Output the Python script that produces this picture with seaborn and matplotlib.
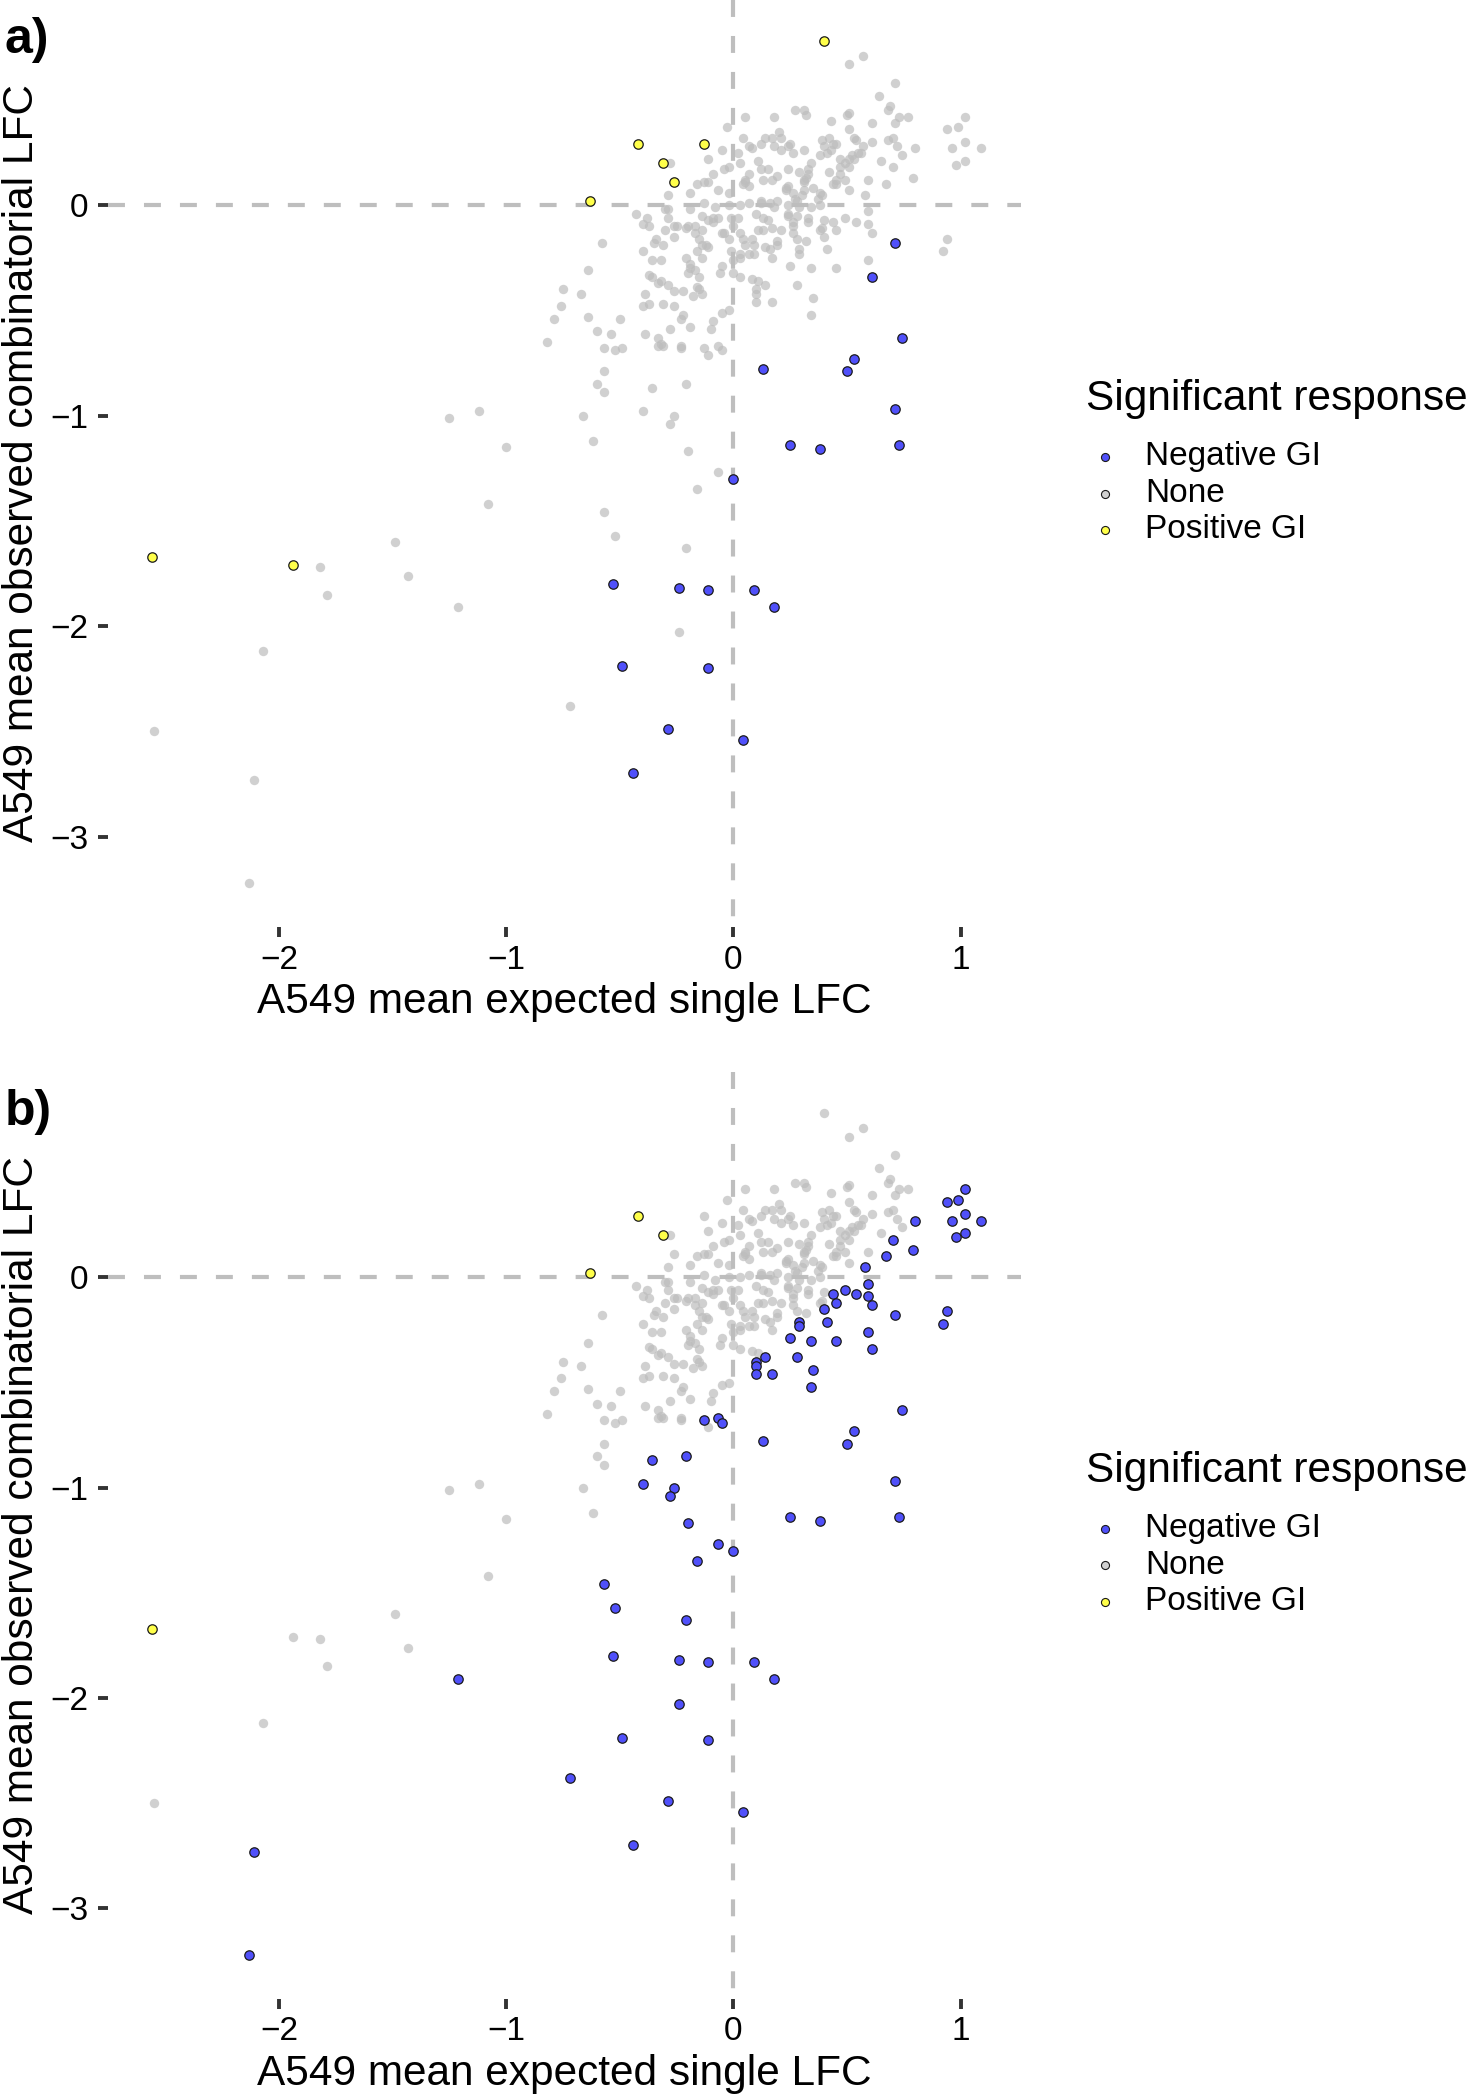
import matplotlib
matplotlib.use('Agg')
import matplotlib.pyplot as plt
from matplotlib.lines import Line2D
import numpy as np
import pandas as pd
import seaborn as sns

# (expected single LFC, observed combinatorial LFC)

# no significant response in either panel
none_pts = [
    (0.57, 0.71), (0.51, 0.67), (0.71, 0.58), (0.64, 0.52), (0.69, 0.47), (0.68, 0.45),
    (0.27, 0.45), (0.31, 0.45), (0.32, 0.43), (0.05, 0.42), (0.18, 0.42), (0.50, 0.43),
    (0.51, 0.44), (0.43, 0.40), (0.61, 0.39), (0.73, 0.42), (0.77, 0.42), (0.71, 0.39),
    (0.51, 0.36), (-0.03, 0.37), (0.20, 0.35), (0.17, 0.32), (0.21, 0.32), (0.14, 0.32),
    (0.04, 0.32), (0.39, 0.31), (0.42, 0.32), (0.53, 0.32), (0.54, 0.31), (0.61, 0.30),
    (0.68, 0.31), (0.70, 0.32), (0.72, 0.28), (0.07, 0.28), (0.08, 0.27), (0.12, 0.29),
    (0.18, 0.28), (0.21, 0.26), (0.25, 0.29), (0.24, 0.28), (0.26, 0.25), (0.31, 0.26),
    (-0.05, 0.26), (0.02, 0.25), (0.40, 0.28), (0.44, 0.29), (0.41, 0.25), (0.43, 0.26),
    (0.38, 0.24), (0.45, 0.29), (0.57, 0.28), (0.55, 0.25), (0.52, 0.24), (0.51, 0.22),
    (0.47, 0.22), (0.53, 0.22), (0.56, 0.25), (0.74, 0.24), (0.65, 0.21), (-0.11, 0.22),
    (0.03, 0.20), (0.11, 0.21), (0.34, 0.20), (0.49, 0.20), (0.47, 0.18), (-0.04, 0.17),
    (-0.02, 0.18), (0.12, 0.17), (0.15, 0.17), (0.24, 0.17), (0.29, 0.16), (0.33, 0.17),
    (0.51, 0.18), (0.42, 0.16), (0.47, 0.15), (0.59, 0.12), (0.07, 0.15), (0.19, 0.14),
    (-0.09, 0.15), (-0.13, 0.11), (-0.11, 0.11), (-0.16, 0.10), (-0.19, 0.06), (-0.29, 0.05),
    (-0.28, 0.20), (0.05, 0.12), (0.05, 0.11), (0.04, 0.10), (0.13, 0.12), (0.17, 0.12),
    (0.24, 0.09), (0.23, 0.08), (0.31, 0.12), (0.31, 0.11), (0.32, 0.13), (0.33, 0.15),
    (0.45, 0.12), (0.45, 0.10), (0.49, 0.12), (0.51, 0.07), (0.44, 0.10), (-0.07, 0.07),
    (-0.02, 0.06), (0.07, 0.09), (0.23, 0.07), (0.26, 0.06), (0.27, 0.03), (0.28, 0.02),
    (0.30, 0.05), (0.31, 0.07), (0.35, 0.08), (0.38, 0.06), (0.39, 0.05), (0.37, 0.03),
    (0.38, 0.00), (0.34, -0.01), (0.29, -0.01), (0.12, 0.02), (0.12, 0.01), (0.16, 0.01),
    (0.19, 0.02), (0.18, -0.01), (0.24, 0.00), (0.24, -0.04), (0.07, 0.01), (-0.02, 0.00),
    (0.03, 0.00), (-0.08, -0.01), (-0.13, 0.01), (-0.19, -0.02), (-0.29, -0.02), (-0.30, -0.02),
    (-0.43, -0.04), (-0.38, -0.06), (-0.40, -0.09), (-0.37, -0.10), (-0.29, -0.06), (-0.26, -0.10),
    (-0.30, -0.12), (-0.34, -0.16), (-0.35, -0.18), (-0.31, -0.19), (-0.26, -0.15), (-0.25, -0.10),
    (-0.21, -0.11), (-0.20, -0.10), (-0.17, -0.13), (-0.17, -0.10), (-0.14, -0.12), (-0.14, -0.05),
    (-0.11, -0.07), (-0.09, -0.06), (-0.07, -0.06), (-0.09, -0.08), (-0.04, -0.13), (-0.05, -0.13),
    (-0.02, -0.16), (0.00, -0.10), (-0.01, -0.06), (0.02, -0.06), (0.03, -0.13), (0.04, -0.16),
    (0.05, -0.19), (0.09, -0.19), (0.08, -0.16), (0.11, -0.12), (0.13, -0.12), (0.10, -0.04),
    (0.13, -0.06), (0.15, -0.07), (0.17, -0.11), (0.21, -0.12), (0.26, -0.10), (0.26, -0.08),
    (0.24, -0.05), (0.28, -0.05), (0.33, -0.08), (0.33, -0.06), (0.40, -0.07), (0.39, -0.11),
    (0.38, -0.12), (0.32, -0.17), (0.28, -0.16), (0.26, -0.13), (0.19, -0.17), (0.19, -0.19),
    (0.16, -0.21), (0.17, -0.25), (0.14, -0.20), (0.09, -0.23), (0.07, -0.23), (0.03, -0.23),
    (0.03, -0.25), (-0.01, -0.22), (0.00, -0.26), (-0.05, -0.29), (-0.06, -0.32), (0.00, -0.32),
    (0.03, -0.34), (0.08, -0.35), (0.11, -0.36), (-0.15, -0.16), (-0.14, -0.19), (-0.16, -0.22),
    (-0.14, -0.25), (-0.11, -0.20), (-0.12, -0.19), (-0.21, -0.25), (-0.19, -0.28), (-0.19, -0.30),
    (-0.20, -0.32), (-0.17, -0.31), (-0.15, -0.34), (-0.16, -0.39), (-0.15, -0.40), (-0.14, -0.42),
    (-0.18, -0.43), (-0.22, -0.41), (-0.26, -0.41), (-0.29, -0.38), (-0.32, -0.36), (-0.33, -0.37),
    (-0.36, -0.34), (-0.37, -0.33), (-0.32, -0.26), (-0.36, -0.26), (-0.40, -0.22), (-0.58, -0.18),
    (-0.64, -0.31), (-0.75, -0.40), (-0.67, -0.42), (-0.76, -0.48), (-0.79, -0.54), (-0.64, -0.53),
    (-0.60, -0.60), (-0.54, -0.61), (-0.50, -0.54), (-0.39, -0.42), (-0.37, -0.47), (-0.40, -0.48),
    (-0.31, -0.47), (-0.26, -0.48), (-0.22, -0.52), (-0.23, -0.54), (-0.19, -0.58), (-0.28, -0.59),
    (-0.10, -0.59), (-0.09, -0.55), (-0.05, -0.51), (-0.02, -0.50), (-0.39, -0.61), (-0.33, -0.63),
    (-0.32, -0.66), (-0.31, -0.67), (-0.33, -0.67), (-0.23, -0.67), (-0.23, -0.68), (-0.11, -0.71),
    (-0.82, -0.65), (-0.57, -0.68), (-0.52, -0.69), (-0.49, -0.68), (-0.57, -0.79), (-0.60, -0.85),
    (-0.57, -0.89), (-0.66, -1.00), (-1.00, -1.15), (-0.62, -1.12), (-1.25, -1.01), (-1.12, -0.98),
    (-1.08, -1.42), (-1.49, -1.60), (-1.82, -1.72), (-1.43, -1.76), (-1.79, -1.85), (-2.07, -2.12),
    (-2.55, -2.50),
]

# None in a), Negative GI in b)
neg_b_only_pts = [
    (1.02, 0.42), (0.99, 0.37), (0.94, 0.36), (0.80, 0.27), (0.96, 0.27), (1.02, 0.30),
    (1.09, 0.27), (0.70, 0.18), (0.98, 0.19), (1.02, 0.21), (0.67, 0.10), (0.79, 0.13),
    (0.58, 0.05), (0.44, -0.08), (0.45, -0.12), (0.40, -0.15), (0.29, -0.21), (0.29, -0.23),
    (0.10, -0.40), (0.10, -0.42), (0.10, -0.46), (0.14, -0.38), (0.17, -0.46), (0.25, -0.29),
    (0.28, -0.38), (0.34, -0.30), (0.35, -0.44), (0.34, -0.52), (0.41, -0.21), (0.45, -0.30),
    (0.49, -0.06), (0.54, -0.08), (0.59, -0.09), (0.59, -0.03), (0.61, -0.13), (0.59, -0.26),
    (0.94, -0.16), (0.92, -0.22), (-0.13, -0.68), (-0.07, -0.67), (-0.05, -0.69), (-0.36, -0.87),
    (-0.21, -0.85), (-0.40, -0.98), (-0.26, -1.00), (-0.28, -1.04), (-0.20, -1.17), (-0.07, -1.27),
    (-0.16, -1.35), (-0.57, -1.46), (-0.52, -1.57), (-0.21, -1.63), (-0.24, -2.03), (-0.72, -2.38),
    (-1.21, -1.91), (-2.11, -2.73), (-2.13, -3.22),
]

# Negative GI in both panels
neg_pts = [
    (0.71, -0.18), (0.61, -0.34), (0.74, -0.63), (0.53, -0.73), (0.50, -0.79), (0.13, -0.78),
    (0.71, -0.97), (0.73, -1.14), (0.25, -1.14), (0.38, -1.16), (0.00, -1.30), (-0.53, -1.80),
    (-0.24, -1.82), (-0.11, -1.83), (0.09, -1.83), (0.18, -1.91), (-0.49, -2.19), (-0.11, -2.20),
    (-0.29, -2.49), (0.04, -2.54), (-0.44, -2.70),
]

# Positive GI in both panels
pos_pts = [(-0.63, 0.02), (-0.42, 0.29), (-0.31, 0.20), (-2.56, -1.67)]

# Positive GI in a), None in b)
pos_a_only_pts = [(0.40, 0.78), (-0.13, 0.29), (-0.26, 0.11), (-1.94, -1.71)]

levels = ['Negative GI', 'None', 'Positive GI']
fill = {'Negative GI': '#5050FA', 'None': '#BDBDBD', 'Positive GI': '#FFFF4A'}

groups = [
    (none_pts, 'None', 'None'),
    (neg_b_only_pts, 'None', 'Negative GI'),
    (neg_pts, 'Negative GI', 'Negative GI'),
    (pos_pts, 'Positive GI', 'Positive GI'),
    (pos_a_only_pts, 'Positive GI', 'None'),
]
rows = []
for pts, lab_a, lab_b in groups:
    for x, y in pts:
        rows.append((x, y, lab_a, lab_b))
df = pd.DataFrame(rows, columns=['expected', 'observed', 'resp_a', 'resp_b'])

sns.set_style('white')
plt.rcParams.update({
    'font.family': ['Liberation Sans', 'DejaVu Sans'],
    'lines.scale_dashes': False,
    'text.color': 'black',
    'axes.labelcolor': 'black',
    'xtick.bottom': True,
    'ytick.left': True,
    'xtick.direction': 'out',
    'ytick.direction': 'out',
    'xtick.major.size': 7.2,
    'ytick.major.size': 7.2,
    'xtick.major.width': 2.8,
    'ytick.major.width': 2.8,
    'xtick.color': '#333333',
    'ytick.color': '#333333',
    'xtick.labelcolor': 'black',
    'ytick.labelcolor': 'black',
    'xtick.labelsize': 24,
    'ytick.labelsize': 24,
    'xtick.major.pad': 5.5,
    'ytick.major.pad': 7,
    'axes.axisbelow': False,
})

W, H = 1467, 2100
fig = plt.figure(figsize=(W / 100, H / 100), dpi=100)

XLIM = (-2.752, 1.265)
YLIM = (-3.43, 0.975)


def draw_panel(ax, col):
    ax.axhline(0, color='#BEBEBE', lw=3, dashes=(12.2, 13.7), zorder=1)
    ax.axvline(0, ymin=1, ymax=0, color='#BEBEBE', lw=3, dashes=(12.2, 13.7), zorder=1)

    sub = df[df[col] == 'None']
    sns.scatterplot(data=sub, x='expected', y='observed', ax=ax, color=fill['None'],
                    alpha=0.7, s=46, linewidth=0, legend=False, zorder=2)
    for lvl in ['Negative GI', 'Positive GI']:
        sub = df[df[col] == lvl]
        sns.scatterplot(data=sub, x='expected', y='observed', ax=ax, color=fill[lvl],
                        edgecolor='#1a1a1a', linewidth=0.9, s=46, legend=False, zorder=3)

    ax.set_xlim(*XLIM)
    ax.set_ylim(*YLIM)
    ax.set_xticks([-2, -1, 0, 1])
    ax.set_yticks([-3, -2, -1, 0])
    for spine in ax.spines.values():
        spine.set_visible(False)
    ax.set_xlabel('A549 mean expected single LFC', fontsize=30.5, color='black')
    ax.set_ylabel('A549 mean observed combinatorial LFC', fontsize=30.5, color='black')
    ax.xaxis.set_label_coords(0.5, -0.0593)
    ax.yaxis.set_label_coords(-0.0723, 0.5)


def draw_legend(offset):
    fig.text(1086.5 / W, 1 - (399 + offset) / H, 'Significant response',
             fontsize=30.5, ha='left', va='center', color='black')
    for i, lvl in enumerate(levels):
        yy = 1 - (457 + 36.5 * i + offset) / H
        fig.add_artist(Line2D([1105 / W], [yy], transform=fig.transFigure, marker='o',
                              ms=5.8, mfc=fill[lvl] if lvl != 'None' else '#D0D0D0',
                              mec='#1a1a1a', mew=0.8, ls='none'))
        fig.text(1145 / W, yy, lvl, fontsize=24, ha='left', va='center', color='black')


# panel a
ax_a = fig.add_axes([108 / W, 1 - 927 / H, 913 / W, 927 / H])
draw_panel(ax_a, 'resp_a')
draw_legend(0)
fig.text(5 / W, 1 - 53 / H, 'a)', fontsize=36, fontweight='bold', ha='left',
         va='baseline', color='black')

# panel b
off = 1071.7
ax_b = fig.add_axes([108 / W, 1 - (927 + off) / H, 913 / W, 926.3 / H])
draw_panel(ax_b, 'resp_b')
draw_legend(off)
fig.text(5 / W, 1 - (53 + off) / H, 'b)', fontsize=36, fontweight='bold', ha='left',
         va='baseline', color='black')

fig.savefig('out.png', dpi=100)
